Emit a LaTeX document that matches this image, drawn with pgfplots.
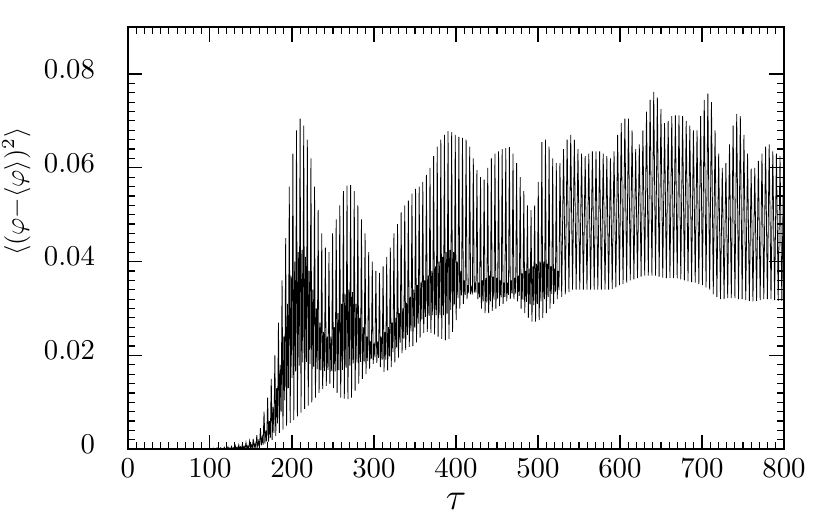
\documentclass[border=0pt]{standalone}
\usepackage{pgfplots}
\pgfplotsset{compat=1.18}
\pgfplotstableread{
x y
0 0
99 0
100 0.0002
101.1 0
102.2 0.0001
103.3 0
104.4 0.0002
105.5 0
106.6 0.0001
107.7 0
108.8 0.0003
109.9 0
111 0.00015
112.1 0
113.2 0.0003
114.3 0
115.4 0.00015
116.5 0
117.6 0.0004
118.7 0
119.8 0.0002
120.9 0
122 0.0005
123.1 0
124.2 0.00025
125.3 0
126.4 0.0006
127.5 0
128.6 0.0003
129.7 0
130.8 0.0008
131.9 0
133 0.0004
134.1 0
135.2 0.0009
136.3 0
137.4 0.0005
138.5 0
139.6 0.0011
140.7 0.0001
141.8 0.0006
142.9 0.0001
144 0.0014
145.1 0.0001
146.2 0.0007
147.3 0.0001
148.4 0.0017
149.5 0.0002
150.6 0.0009
151.7 0.0002
152.8 0.0022
153.9 0.0002
155 0.0012
156.1 0.0003
157.2 0.0030
158.3 0.0004
159.4 0.0017
160.5 0.0006
161.6 0.0045
162.7 0.0008
163.8 0.0025
164.9 0.0010
166 0.0080
167.1 0.0012
168.2 0.0040
169.3 0.0016
170.4 0.0110
171.5 0.0016
172.6 0.0060
173.7 0.0024
174.8 0.0150
175.9 0.0020
177 0.0090
178.1 0.0035
179.2 0.0200
180.3 0.0028
181.4 0.0130
182.5 0.0055
183.6 0.0270
184.7 0.0035
185.8 0.0180
186.9 0.0080
188 0.0360
189.1 0.0042
190.2 0.0240
191.3 0.0104
192.4 0.0450
193.5 0.0050
194.6 0.0310
195.7 0.0130
196.8 0.0560
197.9 0.0056
199 0.0370
200.1 0.0152
201.2 0.0630
202.3 0.0062
203.4 0.0400
204.5 0.0166
205.6 0.0680
206.7 0.0070
207.8 0.0420
208.9 0.0178
210 0.0705
211.1 0.0078
212.2 0.0425
213.3 0.0185
214.4 0.0690
215.5 0.0086
216.6 0.0410
217.7 0.0186
218.8 0.0660
219.9 0.0093
221 0.0380
222.1 0.0182
223.2 0.0620
224.3 0.0100
225.4 0.0340
226.5 0.0176
227.6 0.0560
228.7 0.0110
229.8 0.0300
230.9 0.0171
232 0.0510
233.1 0.0120
234.2 0.0270
235.3 0.0168
236.4 0.0460
237.5 0.0128
238.6 0.0250
239.7 0.0167
240.8 0.0430
241.9 0.0135
243 0.0240
244.1 0.0169
245.2 0.0420
246.3 0.0140
247.4 0.0240
248.5 0.0167
249.6 0.0460
250.7 0.0130
251.8 0.0260
252.9 0.0166
254 0.0490
255.1 0.0120
256.2 0.0290
257.3 0.0168
258.4 0.0520
259.5 0.0110
260.6 0.0310
261.7 0.0169
262.8 0.0550
263.9 0.0108
265 0.0330
266.1 0.0174
267.2 0.0562
268.3 0.0107
269.4 0.0340
270.5 0.0178
271.6 0.0563
272.7 0.0110
273.8 0.0335
274.9 0.0183
276 0.0550
277.1 0.0125
278.2 0.0310
279.3 0.0185
280.4 0.0520
281.5 0.0140
282.6 0.0280
283.7 0.0186
284.8 0.0490
285.9 0.0150
287 0.0260
288.1 0.0187
289.2 0.0460
290.3 0.0160
291.4 0.0240
292.5 0.0188
293.6 0.0420
294.7 0.0172
295.8 0.0230
296.9 0.0193
298 0.0400
299.1 0.0182
300.2 0.0225
301.3 0.0196
302.4 0.0380
303.5 0.0184
304.6 0.0230
305.7 0.0195
306.8 0.0376
307.9 0.0175
309 0.0240
310.1 0.0191
311.2 0.0390
312.3 0.0165
313.4 0.0250
314.5 0.0191
315.6 0.0410
316.7 0.0168
317.8 0.0260
318.9 0.0198
320 0.0430
321.1 0.0175
322.2 0.0270
323.3 0.0207
324.4 0.0460
325.5 0.0185
326.6 0.0280
327.7 0.0217
328.8 0.0480
329.9 0.0195
331 0.0290
332.1 0.0227
333.2 0.0505
334.3 0.0205
335.4 0.0300
336.5 0.0236
337.6 0.0520
338.7 0.0212
339.8 0.0312
340.9 0.0244
342 0.0530
343.1 0.0218
344.2 0.0325
345.3 0.0251
346.4 0.0545
347.5 0.0220
348.6 0.0340
349.7 0.0259
350.8 0.0555
351.9 0.0228
353 0.0350
354.1 0.0268
355.2 0.0560
356.3 0.0238
357.4 0.0355
358.5 0.0277
359.6 0.0570
360.7 0.0248
361.8 0.0360
362.9 0.0282
364 0.0585
365.1 0.0250
366.2 0.0370
367.3 0.0285
368.4 0.0600
369.5 0.0248
370.6 0.0380
371.7 0.0286
372.8 0.0625
373.9 0.0245
375 0.0390
376.1 0.0286
377.2 0.0645
378.3 0.0240
379.4 0.0400
380.5 0.0286
381.6 0.0660
382.7 0.0235
383.8 0.0410
384.9 0.0286
386 0.0670
387.1 0.0232
388.2 0.0420
389.3 0.0289
390.4 0.0678
391.5 0.0235
392.6 0.0425
393.7 0.0297
394.8 0.0676
395.9 0.0250
397 0.0420
398.1 0.0309
399.2 0.0670
400.3 0.0275
401.4 0.0400
402.5 0.0322
403.6 0.0666
404.7 0.0300
405.8 0.0380
406.9 0.0328
408 0.0664
409.1 0.0310
410.2 0.0360
411.3 0.0329
412.4 0.0660
413.5 0.0320
414.6 0.0350
415.7 0.0333
416.8 0.0645
417.9 0.0330
419 0.0345
420.1 0.0336
421.2 0.0620
422.3 0.0334
423.4 0.0350
424.5 0.0334
425.6 0.0595
426.7 0.0320
427.8 0.0355
428.9 0.0324
430 0.0580
431.1 0.0300
432.2 0.0360
433.3 0.0315
434.4 0.0575
435.5 0.0290
436.6 0.0365
437.7 0.0313
438.8 0.0600
439.9 0.0290
441 0.0370
442.1 0.0315
443.2 0.0620
444.3 0.0295
445.4 0.0368
446.5 0.0319
447.6 0.0630
448.7 0.0300
449.8 0.0365
450.9 0.0321
452 0.0635
453.1 0.0305
454.2 0.0360
455.3 0.0324
456.4 0.0640
457.5 0.0310
458.6 0.0355
459.7 0.0325
460.8 0.0642
461.9 0.0315
463 0.0355
464.1 0.0329
465.2 0.0644
466.3 0.0320
467.4 0.0360
468.5 0.0332
469.6 0.0630
470.7 0.0320
471.8 0.0365
472.9 0.0332
474 0.0610
475.1 0.0315
476.2 0.0370
477.3 0.0327
478.4 0.0580
479.5 0.0300
480.6 0.0375
481.7 0.0319
482.8 0.0550
483.9 0.0290
485 0.0380
486.1 0.0314
487.2 0.0520
488.3 0.0280
489.4 0.0385
490.5 0.0309
491.6 0.0510
492.7 0.0272
493.8 0.0390
494.9 0.0307
496 0.0520
497.1 0.0272
498.2 0.0395
499.3 0.0310
500.4 0.0570
501.5 0.0275
502.6 0.0400
503.7 0.0315
504.8 0.0655
505.9 0.0280
507 0.0400
508.1 0.0320
509.2 0.0660
510.3 0.0290
511.4 0.0395
512.5 0.0325
513.6 0.0645
514.7 0.0300
515.8 0.0390
516.9 0.0331
518 0.0620
519.1 0.0310
520.2 0.0385
521.3 0.0336
522.4 0.0610
523.5 0.0320
524.6 0.0380
525.7 0.0339
526.8 0.0610
529 0.0325
531.2 0.0640
533.4 0.0330
535.6 0.0660
537.8 0.0335
540 0.0670
542.2 0.0340
544.4 0.0660
546.6 0.0340
548.8 0.0640
551 0.0340
553.2 0.0630
555.4 0.0340
557.6 0.0625
559.8 0.0340
562 0.0630
564.2 0.0340
566.4 0.0635
568.6 0.0340
570.8 0.0635
573 0.0340
575.2 0.0635
577.4 0.0340
579.6 0.0630
581.8 0.0340
584 0.0625
586.2 0.0340
588.4 0.0620
590.6 0.0342
592.8 0.0635
595 0.0345
597.2 0.0670
599.4 0.0350
601.6 0.0695
603.8 0.0352
606 0.0705
608.2 0.0355
610.4 0.0705
612.6 0.0360
614.8 0.0680
617 0.0362
619.2 0.0640
621.4 0.0365
623.6 0.0650
625.8 0.0368
628 0.0680
630.2 0.0370
632.4 0.0720
634.6 0.0370
636.8 0.0745
639 0.0370
641.2 0.0762
643.4 0.0370
645.6 0.0750
647.8 0.0368
650 0.0725
652.2 0.0366
654.4 0.0695
656.6 0.0365
658.8 0.0700
661 0.0365
663.2 0.0710
665.4 0.0365
667.6 0.0712
669.8 0.0364
672 0.0712
674.2 0.0362
676.4 0.0710
678.6 0.0360
680.8 0.0700
683 0.0358
685.2 0.0690
687.4 0.0356
689.6 0.0680
691.8 0.0355
694 0.0680
696.2 0.0352
698.4 0.0710
700.6 0.0350
702.8 0.0745
705 0.0345
707.2 0.0758
709.4 0.0340
711.6 0.0740
713.8 0.0330
716 0.0680
718.2 0.0325
720.4 0.0630
722.6 0.0320
724.8 0.0600
727 0.0320
729.2 0.0610
731.4 0.0322
733.6 0.0650
735.8 0.0322
738 0.0690
740.2 0.0322
742.4 0.0715
744.6 0.0320
746.8 0.0710
749 0.0320
751.2 0.0670
753.4 0.0318
755.6 0.0630
757.8 0.0316
760 0.0598
762.2 0.0315
764.4 0.0600
766.6 0.0316
768.8 0.0615
771 0.0318
773.2 0.0630
775.4 0.0320
777.6 0.0645
779.8 0.0320
782 0.0650
784.2 0.0320
786.4 0.0635
788.6 0.0318
790.8 0.0630
793 0.0316
795.2 0.0625
797.4 0.0316
799.6 0.0620
}\datatable
\begin{document}
\begin{tikzpicture}
\begin{axis}[
  scale only axis,
  width=249.3pt, height=160.4pt,
  xmin=0, xmax=800, ymin=0, ymax=0.09,
  xtick={0,100,...,800},
  ytick={0,0.02,0.04,0.06,0.08},
  yticklabels={0,0.02,0.04,0.06,0.08},
  minor x tick num=9, minor y tick num=9,
  tick align=inside,
  major tick length=5.5pt, minor tick length=2.8pt,
  tick style={black, line width=0.45pt},
  axis line style={line width=0.6pt},
  scaled y ticks=false,
  ticklabel style={font=\fontsize{10.9}{13}\selectfont},
  yticklabel style={xshift=-9pt, yshift=1.9pt},
  xlabel={$\tau$},
  ylabel={$\langle(\varphi{-}\langle\varphi\rangle)^2\rangle$},
  xlabel style={at={(axis description cs:0.5,-0.123)}, anchor=center, font=\Large, inner sep=0pt},
  ylabel style={at={(axis description cs:-0.170,0.61)}, anchor=center, inner sep=0pt},
]
\addplot[black, line width=0.3pt] table[x=x,y=y] {\datatable};
\coordinate (sw) at (rel axis cs:0,0);
\coordinate (ne) at (rel axis cs:1,1);
\end{axis}
\path (sw) ++(-48.6pt,-29.3pt);
\path (ne) ++(17.5pt,10.3pt);
\end{tikzpicture}
\end{document}
